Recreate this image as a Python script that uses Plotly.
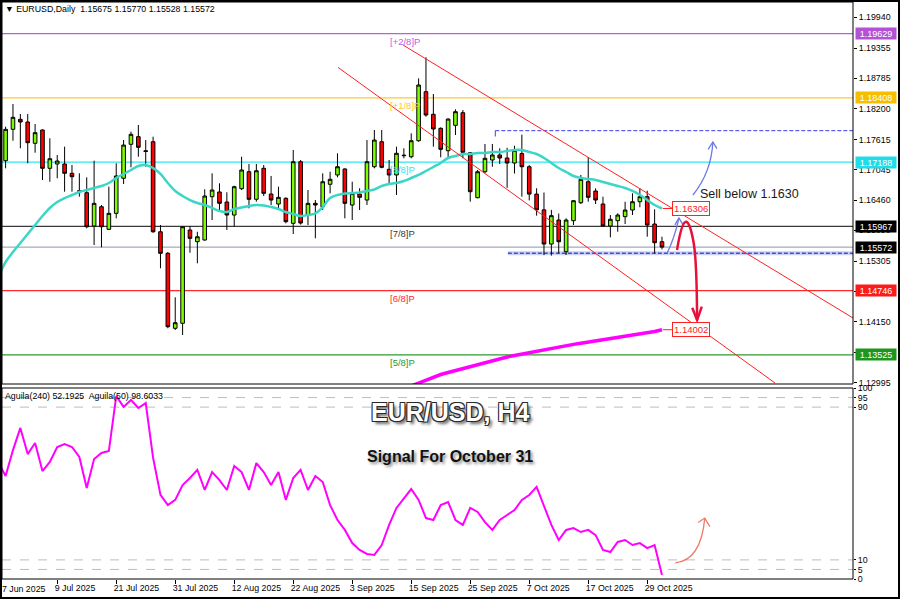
import plotly.graph_objects as go

# ---------------- data ----------------
bars = list(range(90))  # 30 Jun 2025 .. 31 Oct 2025 (daily bars)
opens = [1.17214, 1.17811, 1.18001, 1.17950, 1.17545, 1.17798, 1.17070, 1.17152, 1.17152, 1.16975,
         1.16644, 1.16606, 1.15973, 1.16340, 1.15910, 1.16214, 1.16880, 1.17526, 1.17671, 1.17404,
         1.17575, 1.15864, 1.15454, 1.14029, 1.14124, 1.15897, 1.15675, 1.15707, 1.16530, 1.16620,
         1.16429, 1.16182, 1.16682, 1.17005, 1.16481, 1.17070, 1.16581, 1.16391, 1.16499, 1.16024,
         1.17195, 1.16182, 1.16404, 1.16340, 1.16766, 1.16943, 1.17057, 1.16372, 1.16581, 1.16467,
         1.17100, 1.17575, 1.17051, 1.16943, 1.17309, 1.17290, 1.17594, 1.18526, 1.18096, 1.17830,
         1.17404, 1.17887, 1.18127, 1.17367, 1.16511, 1.17005, 1.17228, 1.17323, 1.17266, 1.17170,
         1.17350, 1.17100, 1.16580, 1.16280, 1.15630, 1.16087, 1.15485, 1.16074, 1.16416, 1.16815,
         1.16638, 1.16391, 1.15973, 1.16074, 1.16150, 1.16277, 1.16435, 1.16530, 1.16011, 1.15675]
highs = [1.17861, 1.18292, 1.18102, 1.18102, 1.17912, 1.17810, 1.17640, 1.17323, 1.17481, 1.17133,
         1.16975, 1.16898, 1.17214, 1.16372, 1.16720, 1.17165, 1.17607, 1.17766, 1.17893, 1.17607,
         1.17671, 1.15992, 1.15480, 1.14618, 1.15970, 1.15973, 1.15864, 1.16671, 1.16975, 1.16785,
         1.16614, 1.16739, 1.17290, 1.17152, 1.17152, 1.17133, 1.16924, 1.16720, 1.16520, 1.17418,
         1.17227, 1.16657, 1.16467, 1.16975, 1.17005, 1.17355, 1.17070, 1.16815, 1.16690, 1.17607,
         1.17798, 1.17798, 1.17228, 1.17481, 1.17450, 1.17735, 1.18780, 1.19180, 1.18482, 1.17849,
         1.18020, 1.18191, 1.18178, 1.17380, 1.17038, 1.17532, 1.17532, 1.17450, 1.17460, 1.17500,
         1.17710, 1.17130, 1.16690, 1.16610, 1.16280, 1.16210, 1.16119, 1.16467, 1.16943, 1.17279,
         1.16690, 1.16530, 1.16182, 1.16214, 1.16435, 1.16595, 1.16690, 1.16644, 1.16291, 1.15770]
lows = [1.17070, 1.17594, 1.17450, 1.17165, 1.17367, 1.16848, 1.16815, 1.16880, 1.16625, 1.16625,
        1.16530, 1.15929, 1.15612, 1.15568, 1.15897, 1.16119, 1.16771, 1.17089, 1.17290, 1.17100,
        1.15845, 1.15169, 1.14029, 1.13997, 1.13902, 1.15465, 1.15264, 1.15694, 1.16087, 1.16277,
        1.15897, 1.15959, 1.16657, 1.16309, 1.16436, 1.16543, 1.16372, 1.16309, 1.16024, 1.15821,
        1.16000, 1.15992, 1.15739, 1.16277, 1.16594, 1.16899, 1.16119, 1.16087, 1.16277, 1.16372,
        1.17070, 1.17070, 1.16785, 1.16563, 1.17260, 1.17260, 1.17575, 1.18051, 1.17481, 1.17279,
        1.17260, 1.17703, 1.17260, 1.16436, 1.16500, 1.16975, 1.17100, 1.17150, 1.16700, 1.16970,
        1.16530, 1.16460, 1.16170, 1.15420, 1.15410, 1.15454, 1.15422, 1.15992, 1.16391, 1.16435,
        1.16391, 1.15965, 1.15758, 1.15865, 1.16011, 1.16182, 1.16329, 1.15770, 1.15454, 1.15528]
closes = [1.17811, 1.18039, 1.17950, 1.17557, 1.17747, 1.17070, 1.17252, 1.17209, 1.16975, 1.16910,
          1.16630, 1.15959, 1.16404, 1.15959, 1.16214, 1.16924, 1.17512, 1.17716, 1.17469, 1.17390,
          1.15864, 1.15454, 1.14059, 1.14135, 1.15959, 1.15739, 1.15769, 1.16543, 1.16657, 1.16404,
          1.16182, 1.16720, 1.17038, 1.16481, 1.17024, 1.16594, 1.16467, 1.16518, 1.16055, 1.17195,
          1.16030, 1.16404, 1.16372, 1.16815, 1.16861, 1.17100, 1.16404, 1.16594, 1.16518, 1.17195,
          1.17607, 1.17089, 1.16943, 1.17355, 1.17317, 1.17594, 1.18653, 1.18083, 1.17817, 1.17431,
          1.18006, 1.18146, 1.17374, 1.16625, 1.17005, 1.17260, 1.17323, 1.17266, 1.17170, 1.17410,
          1.17100, 1.16580, 1.16280, 1.15630, 1.16170, 1.15675, 1.16087, 1.16454, 1.16861, 1.16519,
          1.16467, 1.15973, 1.16101, 1.16182, 1.16277, 1.16435, 1.16530, 1.15992, 1.15656, 1.15572]

ma_x = list(range(-1, 90))
ma_fast = [1.15004, 1.15289, 1.15479, 1.15650, 1.15821, 1.15992, 1.16163, 1.16315, 1.16429, 1.16505,
           1.16562, 1.16620, 1.16658, 1.16696, 1.16734, 1.16791, 1.16886, 1.16962, 1.17038, 1.17114,
           1.17133, 1.17076, 1.16962, 1.16791, 1.16639, 1.16543, 1.16467, 1.16410, 1.16372, 1.16315,
           1.16258, 1.16239, 1.16296, 1.16325, 1.16353, 1.16372, 1.16363, 1.16334, 1.16296, 1.16239,
           1.16201, 1.16163, 1.16182, 1.16211, 1.16334, 1.16505, 1.16562, 1.16591, 1.16600, 1.16610,
           1.16639, 1.16667, 1.16734, 1.16772, 1.16791, 1.16829, 1.16886, 1.16943, 1.17019, 1.17095,
           1.17171, 1.17266, 1.17304, 1.17342, 1.17342, 1.17361, 1.17361, 1.17380, 1.17380, 1.17399,
           1.17418, 1.17418, 1.17380, 1.17342, 1.17266, 1.17171, 1.17076, 1.17000, 1.16924, 1.16886,
           1.16867, 1.16848, 1.16810, 1.16772, 1.16734, 1.16696, 1.16639, 1.16562, 1.16467, 1.16372,
           1.16306]

ma_slow_x = list(range(54, 90))
ma_slow = [1.12894, 1.12932, 1.12989, 1.13046, 1.13103, 1.13150, 1.13188, 1.13226, 1.13264, 1.13303,
           1.13341, 1.13379, 1.13417, 1.13455, 1.13483, 1.13512, 1.13540, 1.13569, 1.13597, 1.13626,
           1.13654, 1.13677, 1.13700, 1.13723, 1.13746, 1.13768, 1.13791, 1.13814, 1.13835, 1.13856,
           1.13877, 1.13898, 1.13918, 1.13939, 1.13968, 1.14002]

ind_x = list(range(-1, 90))
aguila = [61.3, 53.9, 67.5, 79.1, 65.4, 71.2, 56.5, 61.3, 69.1, 70.7,
          69.1, 63.9, 47.6, 62.8, 66.0, 67.0, 95.8, 90.1, 93.7, 89.5,
          92.1, 63.4, 44.0, 38.7, 41.4, 49.2, 52.9, 57.1, 46.6, 56.0,
          51.8, 46.6, 59.2, 56.0, 46.6, 60.7, 56.0, 49.2, 56.0, 41.4,
          52.9, 57.1, 46.6, 53.9, 50.8, 38.7, 30.9, 25.7, 18.8, 15.2,
          13.1, 12.6, 17.8, 28.3, 37.2, 42.4, 47.1, 41.4, 31.9, 30.9,
          38.7, 40.3, 30.9, 28.3, 37.2, 35.1, 29.8, 25.7, 30.9, 33.5,
          36.1, 41.4, 44.0, 48.2, 38.7, 28.3, 20.4, 25.7, 26.7, 24.6,
          25.7, 23.0, 15.2, 14.1, 19.4, 20.4, 17.8, 18.8, 16.2, 17.8,
          2.1]

date_idx = [-1, 7, 15, 23, 31, 39, 47, 55, 63, 71, 79, 87]
date_lbl = ["27 Jun 2025", "9 Jul 2025", "21 Jul 2025", "31 Jul 2025", "12 Aug 2025",
            "22 Aug 2025", "3 Sep 2025", "15 Sep 2025", "25 Sep 2025", "7 Oct 2025",
            "17 Oct 2025", "29 Oct 2025"]

price_ticks = [1.19940, 1.19355, 1.18785, 1.18200, 1.17615, 1.17045, 1.16460, 1.15890,
               1.15305, 1.14725, 1.14150, 1.13570, 1.12995]
ind_ticks = [0, 5, 10, 90, 95, 100]

murrey_names = ["[+2/8]P", "[+1/8]P", "[8/8]P", "[7/8]P", "[6/8]P", "[5/8]P"]
murrey_levels = [1.19629, 1.18408, 1.17188, 1.15967, 1.14746, 1.13525]
murrey_colors = ["#C45ADB", "#FFC82E", "#2EE6F0", "#3A3A3A", "#FF2B2B", "#2E9A2E"]
murrey_label_bg = ["#B452D6", "#F5BE00", "#1FDCE8", "#000000", "#FF1A1A", "#1E961E"]
murrey_label_x = 51.8

bid_price = 1.15572
resistance, resistance_start = 1.17785, 66.4
support, support_start = 1.15454, 68.1
upper_channel_x, upper_channel_y = [53.88, 114.9], [1.19414, 1.14225]
lower_channel_x, lower_channel_y = [45.07, 104.33], [1.18988, 1.12989]

sell_level_text = "Sell below 1.1630"

# annotation drawings (index, price) anchor points
blue_big = [(93.2, 1.16562), (95.7, 1.1700), (95.9, 1.17570)]
blue_big_head = [(95.25, 1.17430), (95.9, 1.17570), (96.45, 1.17445)]
blue_small = [(89.7, 1.15460), (90.7, 1.15750), (91.3, 1.16125)]
blue_small_head = [(90.75, 1.15995), (91.3, 1.16125), (91.8, 1.16010)]
red_curve = [(91.04, 1.15517), (92.2, 1.16520), (93.3, 1.15650), (93.72, 1.15300), (93.76, 1.14187)]
red_head = [(93.1, 1.14420), (93.76, 1.14187), (94.4, 1.14440)]
ind_arrow = [(90.8, 8.4), (94.3, 10.0), (94.8, 31.9)]
ind_arrow_head = [(93.9, 29.6), (94.8, 31.9), (95.5, 27.4)]

# ---------------- geometry ----------------
W, H = 900, 599
ML, MR, MT, MB = 2, 47, 2, 20
PW, PH = W - ML - MR, H - MT - MB
XR = [-0.488, 114.9]
YR = [1.12970, 1.20231]
dom_main = [0.33795, 1.0]
dom_ind = [0.0, 0.33102]

FONT = "Liberation Sans, Arial, sans-serif"

fig = go.Figure()

fig.add_trace(go.Scatter(x=ma_slow_x, y=ma_slow, mode="lines",
                         line=dict(color="#FF00FF", width=3.5), xaxis="x", yaxis="y",
                         hoverinfo="skip", showlegend=False))
fig.add_trace(go.Scatter(x=ma_x, y=ma_fast, mode="lines",
                         line=dict(color="#3CD6C6", width=2.5, shape="spline"), xaxis="x", yaxis="y",
                         hoverinfo="skip", showlegend=False))
fig.add_trace(go.Candlestick(x=bars, open=opens, high=highs, low=lows, close=closes,
                             increasing=dict(fillcolor="#7CFC00", line=dict(color="#000000", width=1)),
                             decreasing=dict(fillcolor="#FF0000", line=dict(color="#000000", width=1)),
                             whiskerwidth=0, xaxis="x", yaxis="y", showlegend=False))
fig.add_trace(go.Scatter(x=ind_x, y=aguila, mode="lines",
                         line=dict(color="#FF00FF", width=2), xaxis="x", yaxis="y2",
                         hoverinfo="skip", showlegend=False))

shapes = []
for lv, col in zip(murrey_levels, murrey_colors):
    shapes.append(dict(type="line", xref="x domain", yref="y", x0=0, x1=1, y0=lv, y1=lv,
                       line=dict(color=col, width=1.3), layer="below"))
shapes.append(dict(type="line", xref="x domain", yref="y", x0=0, x1=1, y0=bid_price, y1=bid_price,
                   line=dict(color="#8A98A8", width=1), layer="below"))
shapes.append(dict(type="line", xref="x", yref="y", x0=resistance_start, x1=XR[1], y0=resistance,
                   y1=resistance, line=dict(color="#3C3CE8", width=1, dash="4px,2px"), layer="below"))
shapes.append(dict(type="line", xref="x", yref="y", x0=resistance_start, x1=resistance_start,
                   y0=resistance, y1=resistance - 0.0011, line=dict(color="#3C3CE8", width=1), layer="below"))
shapes.append(dict(type="line", xref="x", yref="y", x0=support_start, x1=XR[1], y0=support,
                   y1=support, line=dict(color="#C9D2F2", width=4), layer="below"))
shapes.append(dict(type="line", xref="x", yref="y", x0=support_start, x1=XR[1], y0=support,
                   y1=support, line=dict(color="#4848E8", width=1.5, dash="4px,2px"), layer="below"))
shapes.append(dict(type="line", xref="x", yref="y", x0=upper_channel_x[0], x1=upper_channel_x[1],
                   y0=upper_channel_y[0], y1=upper_channel_y[1], line=dict(color="#FF2020", width=1)))
shapes.append(dict(type="line", xref="x", yref="y", x0=lower_channel_x[0], x1=lower_channel_x[1],
                   y0=lower_channel_y[0], y1=lower_channel_y[1], line=dict(color="#FF2020", width=1)))
for yv in (ma_fast[-1], ma_slow[-1]):
    shapes.append(dict(type="line", xref="x", yref="y", x0=89.1, x1=90.36, y0=yv, y1=yv,
                       line=dict(color="#FF2020", width=1)))


def qpath(pts):
    if len(pts) == 3:
        (a, b), (c, d), (e, f) = pts
        return f"M {a},{b} Q {c},{d} {e},{f}"
    (a, b), (c, d), (e, f), (g, h), (i, j) = pts
    return f"M {a},{b} Q {c},{d} {e},{f} Q {g},{h} {i},{j}"


def lpath(pts):
    return "M " + " L ".join(f"{x},{y}" for x, y in pts)


for pts, head, col, wd, yr in [(blue_big, blue_big_head, "#6A78E8", 1.3, "y"),
                               (blue_small, blue_small_head, "#6A78E8", 1.3, "y"),
                               (red_curve, red_head, "#E8103A", 2.5, "y"),
                               (ind_arrow, ind_arrow_head, "#F07A68", 1.3, "y2")]:
    shapes.append(dict(type="path", xref="x", yref=yr, path=qpath(pts), line=dict(color=col, width=wd)))
    shapes.append(dict(type="path", xref="x", yref=yr, path=lpath(head), line=dict(color=col, width=wd)))

for lv in (5, 10, 90, 95):
    shapes.append(dict(type="line", xref="x domain", yref="y2", x0=0, x1=1, y0=lv, y1=lv,
                       line=dict(color="#BDBDBD", width=1, dash="dash"), layer="below"))
for yr in ("y domain", "y2 domain"):
    shapes.append(dict(type="rect", xref="x domain", yref=yr, x0=0, x1=1, y0=0, y1=1,
                       line=dict(color="#000000", width=1)))
shapes.append(dict(type="rect", xref="paper", yref="paper", x0=-ML / PW, x1=1 + MR / PW,
                   y0=-MB / PH, y1=1 + MT / PH, line=dict(color="#000000", width=4)))

ann = []
ann.append(dict(text="\u25BC EURUSD,Daily  1.15675 1.15770 1.15528 1.15572", xref="paper", yref="paper",
                x=0.001, y=1, xanchor="left", yanchor="top", showarrow=False,
                font=dict(family=FONT, size=8.8, color="#000")))
ann.append(dict(text="Aguila(240) 52.1925  Aguila(50) 98.6033", xref="paper", yref="y2 domain",
                x=0.001, y=1, xanchor="left", yanchor="top", yshift=-1, showarrow=False,
                font=dict(family=FONT, size=8.8, color="#000")))
for name, lv, col in zip(murrey_names, murrey_levels, murrey_colors):
    ann.append(dict(text=name, x=murrey_label_x, y=lv, xref="x", yref="y", xanchor="left",
                    yanchor="top", yshift=0, showarrow=False, font=dict(family=FONT, size=9.5, color=col)))
for lv, bg in zip(murrey_levels + [bid_price], murrey_label_bg + ["#000000"]):
    ann.append(dict(text=f"{lv:.5f}", x=1 + 2 / PW, y=lv, xref="paper", yref="y", xanchor="left",
                    yanchor="middle", showarrow=False, bgcolor=bg, width=40, height=11, borderpad=0,
                    font=dict(family=FONT, size=9, color="#FFFFFF")))
for yv in (ma_fast[-1], ma_slow[-1]):
    ann.append(dict(text=f"{yv:.5f}", x=90.36, y=yv, xref="x", yref="y", xanchor="left",
                    yanchor="middle", showarrow=False, bgcolor="#FFFFFF", bordercolor="#FF2020",
                    borderwidth=1, borderpad=1, font=dict(family=FONT, size=9.5, color="#FF2020")))
ann.append(dict(text=sell_level_text, x=93.9, y=1.16581, xref="x", yref="y", xanchor="left",
                yanchor="middle", showarrow=False, font=dict(family=FONT, size=12.5, color="#1A1A1A")))
ann.append(dict(text="EUR/USD, H4", x=(450 - ML) / PW, y=(H - MB - 411.5) / PH, xref="paper", yref="paper",
                xanchor="center", yanchor="middle", showarrow=False,
                font=dict(family=FONT, size=25, color="#FFFFFF", weight="bold",
                          shadow="-1px -1px 0 #2A2A2A, 1px -1px 0 #2A2A2A, -1px 1px 0 #2A2A2A, 1px 1px 0 #2A2A2A, 3px 3px 3px #6A6A6A")))
ann.append(dict(text="Signal For October 31", x=(450 - ML) / PW, y=(H - MB - 456) / PH, xref="paper",
                yref="paper", xanchor="center", yanchor="middle", showarrow=False,
                font=dict(family=FONT, size=16, color="#111111", weight="bold",
                          shadow="2px 2px 3px #8A8A8A")))
fx = (date_idx[0] - XR[0]) / (XR[1] - XR[0])
ann.append(dict(text=date_lbl[0], x=fx, y=0, xref="paper", yref="paper", xanchor="left", yanchor="top",
                xshift=-3, yshift=-3, showarrow=False, font=dict(family=FONT, size=8.8, color="#000")))

fig.update_layout(
    width=W, height=H, margin=dict(l=ML, r=MR, t=MT, b=MB, pad=0, autoexpand=False),
    paper_bgcolor="#FFFFFF", plot_bgcolor="#FFFFFF", showlegend=False,
    font=dict(family=FONT, size=9.5, color="#000"),
    xaxis=dict(range=XR, anchor="y2", tickvals=date_idx[1:], ticktext=date_lbl[1:], ticks="outside",
               ticklen=4, tickcolor="#000", ticklabelposition="outside right", tickangle=0,
               ticklabelshift=-3, automargin=False,
               showgrid=False, zeroline=False, showline=False, rangeslider=dict(visible=False),
               tickfont=dict(family=FONT, size=8.8, color="#000")),
    yaxis=dict(domain=dom_main, range=YR, side="right", anchor="x", tickvals=price_ticks,
               tickformat=".5f", ticks="outside", ticklen=3, tickcolor="#000", showgrid=False,
               zeroline=False, showline=False, ticklabelstandoff=0, automargin=False,
               tickfont=dict(family=FONT, size=8.8, color="#000")),
    yaxis2=dict(domain=dom_ind, range=[0, 100], side="right", anchor="x", tickvals=ind_ticks,
                ticks="outside", ticklen=2, tickcolor="#000", showgrid=False, zeroline=False,
                showline=False, ticklabelstandoff=0, automargin=False,
                tickfont=dict(family=FONT, size=8.8, color="#000")),
    shapes=shapes, annotations=ann,
)

fig.write_html("out.html", config={"displayModeBar": False},
               post_script="document.body.style.margin='0';document.body.style.overflow='hidden';")
